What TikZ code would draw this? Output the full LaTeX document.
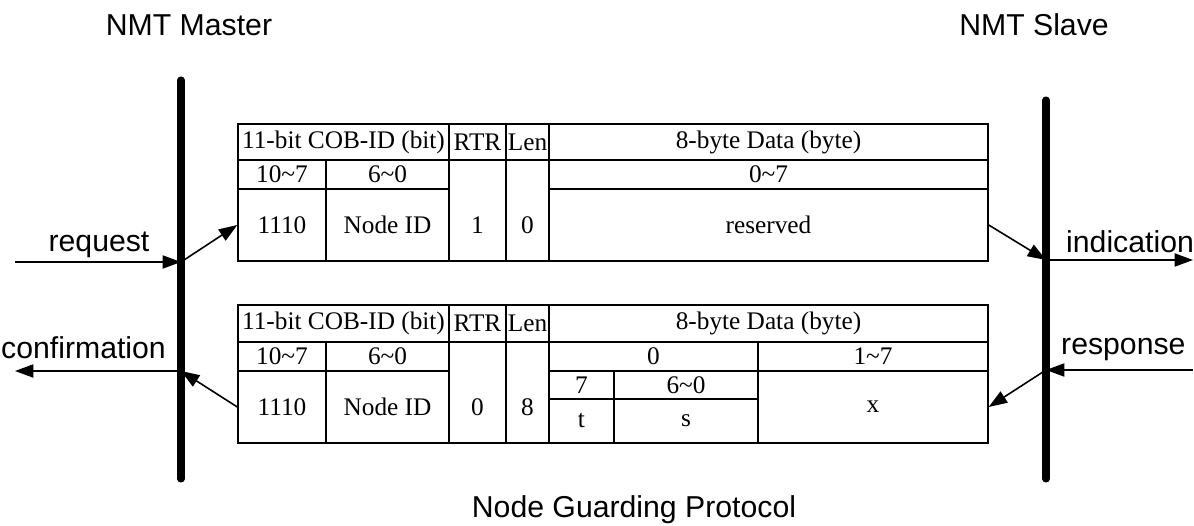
\documentclass[tikz,border=0pt]{standalone}
\usepackage{fontspec}
\setmainfont{Liberation Serif}
\setsansfont{Liberation Sans}
\usetikzlibrary{arrows.meta}

\begin{document}
\begin{tikzpicture}[x=0.02cm, y=-0.02cm,
    cell/.style ={draw, line width=0.8pt, inner sep=0pt,
                  font=\fontsize{14.4}{17}\selectfont},
    wh/.style 2 args ={minimum width=#1*0.02cm, minimum height=#2*0.02cm},
    low/.style ={text height=0.91cm},
    role/.style ={font=\sffamily\fontsize{17.2}{20}\selectfont},
    msg/.style ={line width=0.9pt, -{Triangle[length=10.5pt, width=7.5pt]}},
    lifeline/.style ={line width=4pt, line cap=round}]
   \useasboundingbox (0,0) rectangle (1194,526);

   % titles
   \node[role, anchor=base] (master) at (189,36)  {NMT Master};
   \node[role, anchor=base] (slave)  at (1034,36) {NMT Slave};
   \node[role, anchor=base] (title)  at (634,518) {Node Guarding Protocol};

   % request frame
   \node[cell, wh={211}{36}]  (cobA)  at (343.5,142) {11-bit COB-ID (bit)};
   \node[cell, wh={57}{36}]   (rtrA)  at (477.5,142) {RTR};
   \node[cell, wh={43}{36}]   (lenA)  at (527.5,142) {Len};
   \node[cell, wh={439}{36}]  (dataA) at (768.5,142) {8-byte Data (byte)};
   \node[cell, wh={88}{29}]   (hiA)   at (282,174.5) {10\textasciitilde 7};
   \node[cell, wh={123}{29}]  (loA)   at (387.5,174.5) {6\textasciitilde 0};
   \node[cell, wh={439}{29}]  (idxA)  at (768.5,174.5) {0\textasciitilde 7};
   \node[cell, wh={88}{72}]   (fnA)   at (282,225) {1110};
   \node[cell, wh={123}{72}]  (nidA)  at (387.5,225) {Node ID};
   \node[cell, low, wh={57}{101}] (rtrvA) at (477.5,210.5) {1};
   \node[cell, low, wh={43}{101}] (lenvA) at (527.5,210.5) {0};
   \node[cell, wh={439}{72}]  (resA)  at (768.5,225) {reserved};

   % response frame
   \node[cell, wh={211}{37}]  (cobB)  at (343.5,323.5) {11-bit COB-ID (bit)};
   \node[cell, wh={57}{37}]   (rtrB)  at (477.5,323.5) {RTR};
   \node[cell, wh={43}{37}]   (lenB)  at (527.5,323.5) {Len};
   \node[cell, wh={439}{37}]  (dataB) at (768.5,323.5) {8-byte Data (byte)};
   \node[cell, wh={88}{29}]   (hiB)   at (282,356.5) {10\textasciitilde 7};
   \node[cell, wh={123}{29}]  (loB)   at (387.5,356.5) {6\textasciitilde 0};
   \node[cell, wh={88}{72}]   (fnB)   at (282,407) {1110};
   \node[cell, wh={123}{72}]  (nidB)  at (387.5,407) {Node ID};
   \node[cell, low, wh={57}{101}] (rtrvB) at (477.5,392.5) {0};
   \node[cell, low, wh={43}{101}] (lenvB) at (527.5,392.5) {8};
   \node[cell, wh={209}{29}]  (byte0) at (653.5,356.5) {0};
   \node[cell, wh={230}{29}]  (bytes) at (873,356.5) {1\textasciitilde 7};
   \node[cell, wh={65}{28}]   (bitt)  at (581.5,385) {7};
   \node[cell, wh={144}{28}]  (bits)  at (686,385) {6\textasciitilde 0};
   \node[cell, wh={65}{44}]   (tB)    at (581.5,421) {t};
   \node[cell, wh={144}{44}]  (sB)    at (686,421) {s};
   \node[cell, wh={230}{72}]  (xB)    at (873,407) {x};

   % service labels
   \node[role, anchor=base]      (req)  at (99,252)   {request};
   \node[role, anchor=base east] (conf) at (172,359)  {confirmation};
   \node[role, anchor=base west] (ind)  at (1060,253) {indication};
   \node[role, anchor=base west] (resp) at (1055,355) {response};

   % lifelines
   \coordinate (mtop) at (181,80);
   \coordinate (mbot) at (181,479);
   \coordinate (stop) at (1046,100);
   \coordinate (sbot) at (1046,479);

   \coordinate (reqin)   at (15,262);
   \coordinate (reqm)    at (181,262);
   \coordinate (confm)   at (181,371);
   \coordinate (confout) at (15,371);
   \coordinate (indm)    at (1046,260);
   \coordinate (indout)  at (1193,260);
   \coordinate (respin)  at (1193,370);
   \coordinate (respm)   at (1046,370);

   \draw[msg] (reqin) to (reqm);
   \draw[msg] (reqm) to (fnA.west);
   \draw[msg] (resA.east) to (indm);
   \draw[msg] (indm) to (indout);
   \draw[msg] (respin) to (respm);
   \draw[msg] (respm) to (xB.east);
   \draw[msg] (fnB.west) to (confm);
   \draw[msg] (confm) to (confout);

   \draw[lifeline] (mtop) to (mbot);
   \draw[lifeline] (stop) to (sbot);
 \end{tikzpicture}
\end{document}
